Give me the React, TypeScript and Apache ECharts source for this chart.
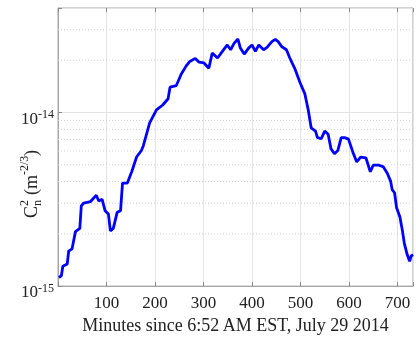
import React, { useEffect, useRef } from "react";
import * as echarts from "echarts";

const minutes = [2,7,10,19,22,29,36,45,48,53,67,79,84,91,97,104,108,114,122,129,133,143,152,162,172,176,189,203,216,227,231,244,254,264,271,283,291,301,311,318,329,339,349,356,363,371,376,384,393,400,407,414,424,431,441,448,454,461,471,478,489,499,509,516,522,531,535,543,550,557,563,570,577,584,591,599,608,616,624,635,644,650,662,671,679,686,689,694,698,705,710,714,720,725,728,732];

const cn2 = [
  1.12e-15,1.15e-15,1.30e-15,1.34e-15,1.59e-15,1.64e-15,2.06e-15,2.15e-15,2.90e-15,3.01e-15,
  3.07e-15,3.34e-15,3.09e-15,3.16e-15,2.72e-15,2.60e-15,2.08e-15,2.15e-15,2.66e-15,2.72e-15,
  3.92e-15,3.92e-15,4.56e-15,5.54e-15,6.04e-15,6.44e-15,8.71e-15,1.035e-14,1.105e-14,1.20e-14,
  1.40e-14,1.43e-14,1.66e-14,1.85e-14,1.96e-14,2.05e-14,1.95e-14,1.93e-14,1.80e-14,2.20e-14,
  2.06e-14,2.25e-14,2.45e-14,2.30e-14,2.50e-14,2.65e-14,2.35e-14,2.17e-14,2.35e-14,2.45e-14,
  2.25e-14,2.45e-14,2.30e-14,2.37e-14,2.56e-14,2.64e-14,2.56e-14,2.40e-14,2.30e-14,2.06e-14,
  1.77e-14,1.49e-14,1.28e-14,1.035e-14,8.16e-15,7.82e-15,7.17e-15,7.08e-15,7.82e-15,7.50e-15,
  6.17e-15,5.79e-15,6.04e-15,7.17e-15,7.17e-15,7.03e-15,5.91e-15,5.19e-15,5.54e-15,5.47e-15,
  4.56e-15,4.97e-15,4.97e-15,4.86e-15,4.47e-15,4.01e-15,3.60e-15,3.45e-15,2.84e-15,2.50e-15,
  2.10e-15,1.77e-15,1.52e-15,1.39e-15,1.49e-15,1.52e-15,
];

const xTicks = [100, 200, 300, 400, 500, 600, 700];
const xMin = 0;
const xMax = 732;
const yMinorGrid = [2e-15,3e-15,4e-15,5e-15,6e-15,7e-15,8e-15,9e-15,2e-14,3e-14];
const xTitle = "Minutes since 6:52 AM EST, July 29 2014";

const FONT = "'Liberation Serif', 'Times New Roman', serif";

export default function App() {
  const ref = useRef<HTMLDivElement>(null);
  useEffect(() => {
    if (!ref.current) return;
    const chart = echarts.init(ref.current, null, { renderer: "svg" });
    const pts = minutes.map((m, i) => [m, cn2[i]]);
    const fs = 18;
    const sfs = 12;
    const minorSeries = yMinorGrid.map((y) => ({
      type: "line",
      data: [[xMin, y], [xMax, y]],
      showSymbol: false,
      silent: true,
      z: 1,
      lineStyle: { type: [1, 2], color: "#d4d4d4", width: 1 },
      emphasis: { disabled: true },
    }));
    chart.setOption({
      animation: false,
      grid: {
        left: 58, right: 0, top: 8, bottom: 45,
        show: true, borderColor: "#a6a6a6", borderWidth: 1, backgroundColor: "#fff",
      },
      xAxis: [
        {
          type: "value", min: xMin, max: xMax, interval: 100,
          axisLine: { show: true, lineStyle: { color: "#a6a6a6" } },
          axisTick: { show: true, inside: true, length: 4, lineStyle: { color: "#888" } },
          splitLine: { show: true, lineStyle: { color: "#e3e3e3", width: 1 } },
          axisLabel: {
            color: "#222", fontFamily: FONT, fontSize: 17, margin: 8,
            formatter: (v: number) => (xTicks.includes(v) ? String(v) : ""),
          },
          name: xTitle, nameLocation: "middle", nameGap: 21,
          nameTextStyle: { color: "#222", fontFamily: FONT, fontSize: fs },
        },
        {
          type: "value", min: xMin, max: xMax, interval: 100, position: "top",
          axisLine: { show: false },
          axisTick: { show: true, inside: true, length: 4, lineStyle: { color: "#888" } },
          splitLine: { show: false }, axisLabel: { show: false },
        },
      ],
      yAxis: {
        type: "log", logBase: 10, min: 1e-15, max: 4e-14,
        axisLine: { show: true, lineStyle: { color: "#a6a6a6" } },
        axisTick: { show: true, inside: true, length: 4, lineStyle: { color: "#888" } },
        splitLine: { show: true, lineStyle: { color: "#e3e3e3", width: 1 } },
        axisLabel: {
          margin: 4,
          padding: [11, 0, 0, 0],
          formatter: (v: number) => {
            const l = Math.log10(v);
            const e = Math.round(l);
            if (Math.abs(l - e) > 0.01) return "";
            return `{a|10}{b|${e}}`;
          },
          rich: {
            a: { fontFamily: FONT, fontSize: 17, color: "#222" },
            b: { fontFamily: FONT, fontSize: 12, color: "#222", padding: [0, 0, 8, 0] },
          },
        },
      },
      graphic: [
        {
          type: "group", x: 31, y: 184, rotation: Math.PI / 2,
          children: [
            { type: "text", x: -34, y: 0, style: { text: "C", font: `${fs}px ${FONT}`, fill: "#222", verticalAlign: "middle" } },
            { type: "text", x: -22, y: -7, style: { text: "2", font: `${sfs}px ${FONT}`, fill: "#222", verticalAlign: "middle" } },
            { type: "text", x: -22, y: 6, style: { text: "n", font: `${sfs}px ${FONT}`, fill: "#222", verticalAlign: "middle" } },
            { type: "text", x: -11, y: 0, style: { text: "(m", font: `${fs}px ${FONT}`, fill: "#222", verticalAlign: "middle" } },
            { type: "text", x: 9, y: -7, style: { text: "-2/3", font: `${sfs}px ${FONT}`, fill: "#222", verticalAlign: "middle" } },
            { type: "text", x: 28, y: 0, style: { text: ")", font: `${fs}px ${FONT}`, fill: "#222", verticalAlign: "middle" } },
          ],
        },
      ],
      series: [
        ...minorSeries,
        {
          type: "line", data: pts, showSymbol: false, z: 3,
          lineStyle: { color: "#0000ff", width: 2.8 },
        },
      ],
    });
    return () => chart.dispose();
  }, []);
  return <div ref={ref} style={{ position: "fixed", left: 0, top: 0, width: 416, height: 339 }} />;
}
